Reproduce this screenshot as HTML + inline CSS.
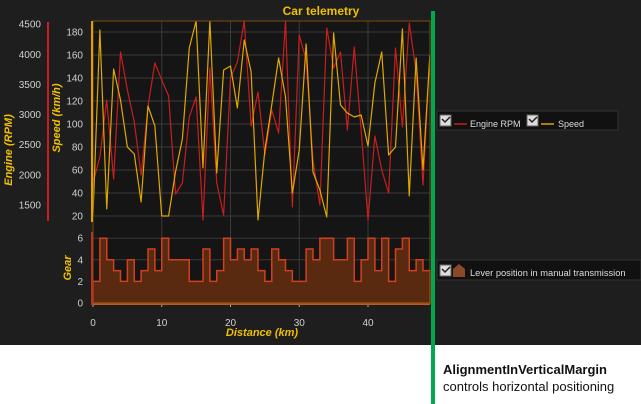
<!DOCTYPE html>
<html><head><meta charset="utf-8"><style>
html,body{margin:0;padding:0;width:641px;height:404px;overflow:hidden;background:#fff;font-family:"Liberation Sans",sans-serif}
</style></head><body>
<svg id="s" width="641" height="404" xmlns="http://www.w3.org/2000/svg" style="position:absolute;left:0;top:0">
<rect x="0" y="0" width="641" height="345" fill="#1e1e1e"/>
<rect x="93" y="21" width="337" height="282" fill="#151515"/>
<g id="grid" stroke="#3a3a3a" stroke-width="1"></g>
<g id="series"></g>
<text x="321" y="15" fill="#f0c000" font-size="12" font-weight="bold" text-anchor="middle">Car telemetry</text>
<g font-size="10" fill="#d0d0d0" text-anchor="end" id="labels"></g>
<line x1="48" y1="22" x2="48" y2="221" stroke="#c81e1e" stroke-width="2"/>
<line x1="92" y1="21" x2="92" y2="222" stroke="#e0a000" stroke-width="2"/>
<line x1="92" y1="232" x2="92" y2="305" stroke="#c03020" stroke-width="2"/>
<text transform="translate(12,150) rotate(-90)" fill="#f0c000" font-size="11" font-weight="bold" font-style="italic" text-anchor="middle">Engine (RPM)</text>
<text transform="translate(60,118) rotate(-90)" fill="#f0c000" font-size="11" font-weight="bold" font-style="italic" text-anchor="middle">Speed (km/h)</text>
<text transform="translate(71,268) rotate(-90)" fill="#f0c000" font-size="11" font-weight="bold" font-style="italic" text-anchor="middle">Gear</text>
<text x="262" y="336" fill="#f0c000" font-size="11" font-weight="bold" font-style="italic" text-anchor="middle">Distance (km)</text>
<rect x="437" y="111" width="181" height="19" fill="#111" stroke="#333"/>
<rect x="440" y="115" width="11" height="11" fill="#ddd" stroke="#666"/><path d="M442 119l3 3 5-5" stroke="#222" stroke-width="1.5" fill="none"/>
<line x1="454" y1="124" x2="467" y2="124" stroke="#c81e1e" stroke-width="1.5"/>
<text x="470" y="127" fill="#ddd" font-size="9">Engine RPM</text>
<rect x="527" y="115" width="11" height="11" fill="#ddd" stroke="#666"/><path d="M529 119l3 3 5-5" stroke="#222" stroke-width="1.5" fill="none"/>
<line x1="541" y1="124" x2="554" y2="124" stroke="#e0a000" stroke-width="1.5"/>
<text x="558" y="127" fill="#ddd" font-size="9">Speed</text>
<rect x="437" y="260" width="204" height="20" fill="#111" stroke="#333"/>
<rect x="440" y="265" width="11" height="11" fill="#ddd" stroke="#666"/><path d="M442 269l3 3 5-5" stroke="#222" stroke-width="1.5" fill="none"/>
<path d="M453 277v-8l6-5 6 5v8z" fill="#8a4a28"/>
<text x="470" y="276" fill="#ddd" font-size="9.3">Lever position in manual transmission</text>
<rect x="431" y="11" width="4" height="393" fill="#00a850"/>
<text x="443" y="374" fill="#111" font-size="13" font-weight="bold">AlignmentInVerticalMargin</text>
<text x="443" y="391" fill="#111" font-size="13">controls horizontal positioning</text>
</svg>
<script>
var ns="http://www.w3.org/2000/svg",s=document.getElementById("s");
function el(t,a,p){var e=document.createElementNS(ns,t);for(var k in a)e.setAttribute(k,a[k]);(p||s).appendChild(e);return e;}
var G=document.getElementById("grid"),S=document.getElementById("series"),L=document.getElementById("labels");
function X(i){return 93+6.875*i;}
for(var k=0;k<=40;k+=10){el("line",{x1:X(k),y1:21,x2:X(k),y2:303},G);var t=el("text",{x:X(k),y:326,"text-anchor":"middle"},L);t.textContent=k;el("line",{x1:X(k),y1:303,x2:X(k),y2:307,stroke:"#aaa"},S);}
for(var v=20;v<=180;v+=20){var y=216-(v-20)*1.15;el("line",{x1:93,y1:y,x2:430,y2:y},G);var t=el("text",{x:83,y:y+3.5},L);t.textContent=v;}
for(var r=1500;r<=4500;r+=500){var y=205-(r-1500)*0.0603;var t=el("text",{x:41,y:y+3.5},L);t.textContent=r;}
for(var g=0;g<=6;g+=2){var y=303-g*10.8;el("line",{x1:93,y1:y,x2:430,y2:y},G);var t=el("text",{x:83,y:y+3.5},L);t.textContent=g;}
var gear=[2,6,4,3,2,4,2,3,5,3,6,4,4,4,2,2,5,2,3,6,4,5,4,5,3,2,5,4,3,2,2,5,4,6,6,4,4,6,2,4,6,3,6,2,5,6,3,4,3,3];
var d="M93 303";for(var i=0;i<gear.length;i++){var y=303-gear[i]*10.8;d+=" L"+X(i)+" "+y+" L"+Math.min(X(i+1),430)+" "+y;}
el("path",{d:d+" L430 303 Z",fill:"#5a2a10",stroke:"#d04020","stroke-width":1.5},S);
el("line",{x1:93,y1:304,x2:430,y2:304,stroke:"#c05a20","stroke-width":2},S);
var rpm=[183,157,100,179,52,90,122,175,106,63,80,96,194,183,117,97,220,68,183,215,78,62,21,126,92,155,110,133,21,207,35,60,160,205,28,68,52,130,47,130,220,136,170,193,48,127,23,72,185,55];
var sp=[216,30,209,69,100,147,154,202,106,126,216,216,172,139,48,21,168,21,173,70,66,108,40,72,220,150,105,58,97,193,150,44,172,190,217,33,105,113,117,115,146,83,52,155,147,29,196,58,170,55];
function line(a,c){var d="";for(var i=0;i<a.length;i++)d+=(i?" L":"M")+X(i)+" "+a[i];el("path",{d:d,fill:"none",stroke:c,"stroke-width":1.2,"stroke-linejoin":"round"},S);}
line(rpm,"#c81e1e");line(sp,"#e0a800");
el("rect",{x:93,y:21,width:337,height:282,fill:"none",stroke:"#7a4a10"},S);
</script>
</body></html>
